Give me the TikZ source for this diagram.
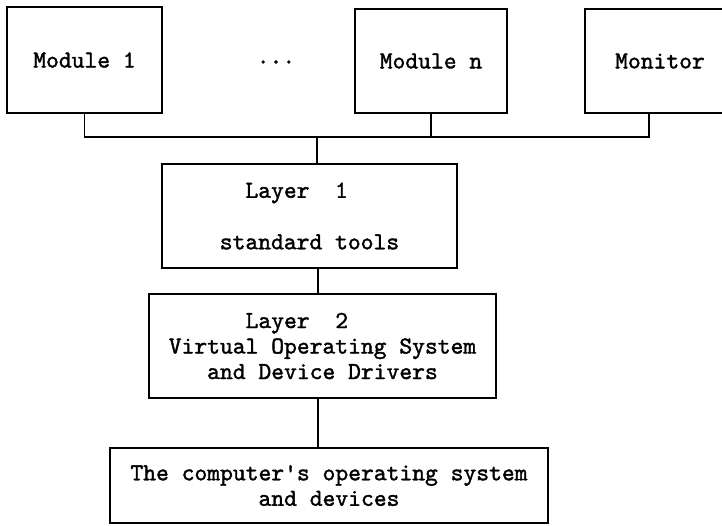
\documentclass[tikz,border=0pt]{standalone}
\usepackage{fontspec}
\newfontfamily\typer{lmmono10-regular.otf}[FakeBold=1.5]
\usetikzlibrary{calc}
\begin{document}
\begin{tikzpicture}[x=1pt, y=-1pt,
  txt/.style={font=\typer\bfseries\fontsize{24.4}{25.5}\selectfont},
  box/.style={draw, line width=1.6pt, inner sep=0pt, align=center, txt},
  conn/.style={line width=1.5pt},
  plain/.style={inner sep=0pt, txt}]
  \useasboundingbox (0,0) rectangle (722,525);
  \clip (0,0) rectangle (722,525);

  % application modules and the monitor
  \node[box, minimum width=155pt, minimum height=106pt] (m1) at (84.5,60) {Module 1};
  \node[plain] (dots) at (276,62) {...};
  \node[box, minimum width=152pt, minimum height=104pt] (mn) at (431,61) {Module n};
  \node[box, minimum width=150pt, minimum height=104pt] (mon) at (660,61) {Monitor};

  % layers
  \node[box, minimum width=295pt, minimum height=104pt] (l1) at (309.5,216)
    {Layer\ \ 1\hphantom{xx}\\[26pt]standard tools};
  \node[box, minimum width=347pt, minimum height=104pt] (l2) at (322.5,346)
    {Layer\ \ 2\hphantom{xxxx}\\Virtual Operating System\\and Device Drivers};
  \node[box, minimum width=438pt, minimum height=75pt] (os) at (329,485.5)
    {The computer's operating system\\and devices};

  % bus and vertical links
  \coordinate (bus) at (317,137);
  \coordinate (mondrop) at ($(mon.south)+(-11,0)$);
  \coordinate (spine) at (318,0);
  \draw[conn] (m1.south) |- (mondrop |- bus) -- (mondrop);
  \draw[conn] (mn.south) -- (mn.south |- bus);
  \draw[conn] (bus) -- (bus |- l1.north);
  \draw[conn] (l1.south -| spine) -- (l2.north -| spine);
  \draw[conn] (l2.south -| spine) -- (os.north -| spine);
\end{tikzpicture}
\end{document}
